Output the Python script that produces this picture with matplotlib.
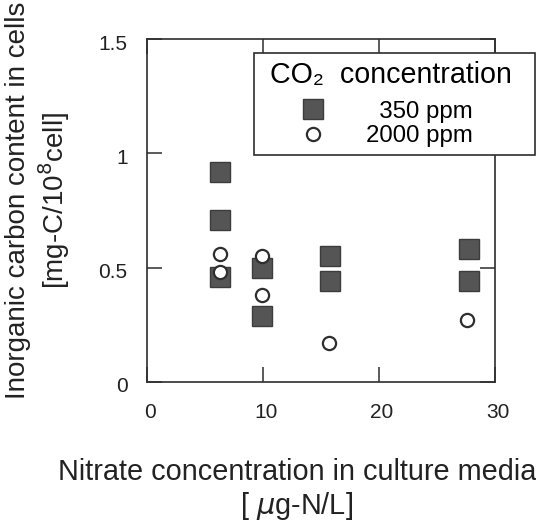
import matplotlib
matplotlib.use("Agg")
import matplotlib.pyplot as plt
import matplotlib.transforms as mtransforms
from matplotlib.lines import Line2D

plt.rcParams['font.family'] = ['Liberation Sans', 'DejaVu Sans']

# data
nitrate_350 = [6.3, 6.3, 6.3, 9.9, 9.9, 15.8, 15.8, 27.8, 27.8]
carbon_350 = [0.92, 0.71, 0.46, 0.50, 0.29, 0.55, 0.44, 0.58, 0.44]
nitrate_2000 = [6.3, 6.3, 9.9, 9.9, 15.7, 27.6]
carbon_2000 = [0.56, 0.48, 0.55, 0.38, 0.17, 0.27]

x_ticks = [0, 10, 20, 30]
y_ticks = [0, 0.5, 1, 1.5]
y_ticklabels = ['0', '0.5', '1', '1.5']

ink = '#2e2e2e'

fig = plt.figure(figsize=(5.36, 5.26), dpi=100)
ax = fig.add_axes([147/536, 1 - 382/526, 348/536, 343/526])

ax.plot(nitrate_350, carbon_350, ls='none', marker='s', ms=14,
        mfc='#555555', mec='#3c3c3c', mew=1.0, zorder=3)
ax.plot(nitrate_2000, carbon_2000, ls='none', marker='o', ms=9.5,
        mfc='white', mec=ink, mew=1.6, zorder=4)

ax.set_xlim(0, 30)
ax.set_ylim(0, 1.5)
ax.set_xticks(x_ticks)
ax.set_yticks(y_ticks)
ax.set_yticklabels(y_ticklabels)

for s in ax.spines.values():
    s.set_linewidth(1.2)
    s.set_color(ink)
ax.tick_params(direction='in', length=11, width=1.1, color=ink,
               top=True, right=True, labelsize=15, labelcolor='#222222')
ax.tick_params(axis='x', pad=15)
ax.tick_params(axis='y', pad=14)

# tick labels in the original sit a little right / below their ticks
shift_x = mtransforms.ScaledTranslation(3/100, 0, fig.dpi_scale_trans)
for lab in ax.get_xticklabels():
    lab.set_transform(lab.get_transform() + shift_x)
shift_y = mtransforms.ScaledTranslation(0, -3/100, fig.dpi_scale_trans)
for lab in ax.get_yticklabels():
    lab.set_transform(lab.get_transform() + shift_y)

ax.set_xlabel('Nitrate concentration in culture media\n[ $\\mu$g-N/L]',
              fontsize=20.8, linespacing=1.15, color='#222222')
ax.xaxis.set_label_coords(0.431, -0.222)
ax.set_ylabel('Inorganic carbon content in cells\n[mg-C/10$^{8}$cell]',
              fontsize=20, linespacing=1.2, color='#222222')
ax.yaxis.set_label_coords(-0.215, 0.53)

handles = [
    Line2D([], [], ls='none', marker='s', ms=14, mfc='#555555', mec='#3c3c3c', mew=1.0),
    Line2D([], [], ls='none', marker='o', ms=9.5, mfc='white', mec=ink, mew=1.6),
]
leg = ax.legend(handles, ['\u2007350 ppm', '2000 ppm'],
                title=' CO\u2082  concentration\u2002', title_fontsize=20.6, fontsize=17.3,
                loc='upper left', bbox_to_anchor=(254/536, 1 - 53/526),
                bbox_transform=fig.transFigure, borderaxespad=0,
                alignment='left', borderpad=0.35, handlelength=4.2,
                handletextpad=0.1, labelspacing=0.1,
                fancybox=False, framealpha=1, edgecolor=ink)
leg._legend_box.sep = 8  # a bit more room under the title
leg.get_frame().set_linewidth(1.2)
leg.set_zorder(10)

fig.savefig('out.png', dpi=100)
